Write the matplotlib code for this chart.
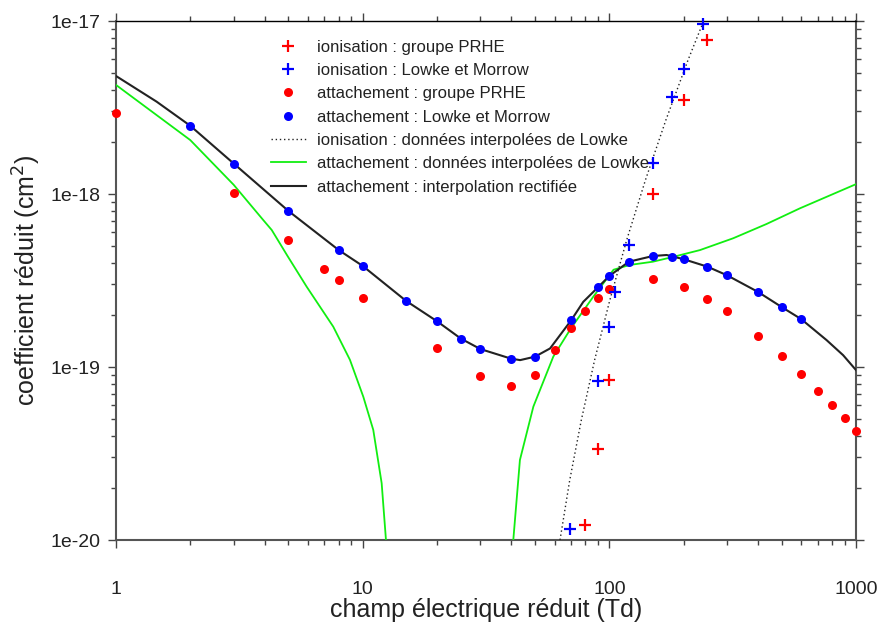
import numpy as np
import matplotlib
matplotlib.use("Agg")
import matplotlib.pyplot as plt
from matplotlib.ticker import LogLocator, NullFormatter, FixedLocator, FixedFormatter

plt.rcParams['font.family'] = ['Liberation Sans', 'DejaVu Sans']

# --- ionisation : groupe PRHE (red crosses)
ion_prhe_x = [80, 90, 100, 150, 200, 250]
ion_prhe_y = [1.22e-20, 3.36e-20, 8.45e-20, 9.96e-19, 3.51e-18, 7.73e-18]

# --- ionisation : Lowke et Morrow (blue crosses)
ion_lowke_x = [69, 90, 100, 105, 120, 150, 180, 200, 240]
ion_lowke_y = [1.15e-20, 8.34e-20, 1.71e-19, 2.72e-19, 5.04e-19, 1.52e-18, 3.64e-18, 5.30e-18, 9.57e-18]

# --- attachement : groupe PRHE (red dots)
att_prhe_x = [1, 3, 5, 7, 8, 10, 20, 30, 40, 50, 60, 70, 80, 90, 100,
              150, 200, 250, 300, 400, 500, 600, 700, 800, 900, 1000]
att_prhe_y = [2.92e-18, 1.02e-18, 5.42e-19, 3.68e-19, 3.17e-19, 2.51e-19, 1.28e-19,
              8.83e-20, 7.73e-20, 9.0e-20, 1.25e-19, 1.69e-19, 2.11e-19, 2.49e-19,
              2.82e-19, 3.24e-19, 2.90e-19, 2.48e-19, 2.10e-19, 1.52e-19, 1.16e-19,
              9.12e-20, 7.26e-20, 6.03e-20, 5.05e-20, 4.26e-20]

# --- attachement : Lowke et Morrow (blue dots)
att_lowke_x = [2, 3, 5, 8, 10, 15, 20, 25, 30, 40, 50, 70, 90, 100,
               120, 150, 180, 200, 250, 300, 400, 500, 600]
att_lowke_y = [2.48e-18, 1.50e-18, 7.98e-19, 4.74e-19, 3.84e-19, 2.41e-19, 1.84e-19,
               1.46e-19, 1.27e-19, 1.117e-19, 1.148e-19, 1.86e-19, 2.89e-19, 3.36e-19,
               4.06e-19, 4.38e-19, 4.32e-19, 4.20e-19, 3.80e-19, 3.39e-19, 2.72e-19,
               2.22e-19, 1.89e-19]

# --- ionisation : données interpolées de Lowke (dotted)
ion_interp_x = [63.1, 69.1, 77.0, 87.2, 100.5, 117.6, 140.1, 169.6, 208.6, 241.2]
ion_interp_y = [1.0e-20, 2.22e-20, 4.94e-20, 1.10e-19, 2.44e-19, 5.42e-19,
                1.205e-18, 2.68e-18, 5.96e-18, 1.0e-17]

# --- attachement : données interpolées de Lowke (green, two branches)
att_interp_low_x = [1, 2, 3, 3.95, 4.28, 4.95, 5.93, 7.6, 8.88, 10.06, 11.04, 11.94, 12.43]
att_interp_low_y = [4.27e-18, 2.05e-18, 1.13e-18, 7.08e-19, 6.19e-19, 4.4e-19, 2.91e-19,
                    1.71e-19, 1.10e-19, 6.73e-20, 4.33e-20, 2.13e-20, 1.0e-20]
att_interp_high_x = [40.8, 43.4, 49.2, 59.3, 70, 86.1, 104, 121, 150, 179, 233,
                     318, 434, 592, 808, 1000]
att_interp_high_y = [1.0e-20, 2.9e-20, 5.9e-20, 1.15e-19, 1.68e-19, 2.55e-19, 3.65e-19,
                     3.89e-19, 4.06e-19, 4.31e-19, 4.74e-19, 5.55e-19, 6.71e-19,
                     8.26e-19, 1.0e-18, 1.14e-18]

# --- attachement : interpolation rectifiée (black)
att_rect_x = [1, 1.46, 2, 3, 5, 8, 10, 15, 20, 25, 30, 40, 43.5, 50, 57.5, 70,
              78.4, 90, 100, 120, 150, 170.7, 200, 250, 300, 400, 500, 600, 760, 887, 1000]
att_rect_y = [4.81e-18, 3.42e-18, 2.48e-18, 1.50e-18, 7.98e-19, 4.74e-19,
              3.84e-19, 2.41e-19, 1.84e-19, 1.46e-19, 1.27e-19, 1.117e-19, 1.096e-19,
              1.148e-19, 1.28e-19, 1.86e-19, 2.38e-19, 2.89e-19, 3.36e-19, 4.06e-19,
              4.38e-19, 4.44e-19, 4.20e-19, 3.80e-19, 3.39e-19, 2.72e-19, 2.22e-19,
              1.89e-19, 1.43e-19, 1.17e-19, 9.6e-20]

x_ticks = [1, 10, 100, 1000]
x_tick_labels = ["1", "10", "100", "1000"]
y_ticks = [1e-20, 1e-19, 1e-18, 1e-17]
y_tick_labels = ["1e-20", "1e-19", "1e-18", "1e-17"]

RED = "#ff0000"
BLUE = "#0000ff"
GREEN = "#11ee11"
BLACK = "#222222"
TEXT = "#222222"

fig = plt.figure(figsize=(8.79, 6.25), dpi=100)
ax = fig.add_axes([116 / 879, 1 - 540 / 625, 740 / 879, 519 / 625])
ax.set_xscale("log")
ax.set_yscale("log")
ax.set_xlim(1, 1000)
ax.set_ylim(1e-20, 1e-17)

ax.plot(ion_prhe_x, ion_prhe_y, linestyle="none", marker="+", color=RED,
        markersize=8, markeredgewidth=1.6, label="ionisation : groupe PRHE",
        zorder=5, clip_on=False)
ax.plot(ion_lowke_x, ion_lowke_y, linestyle="none", marker="+", color=BLUE,
        markersize=8, markeredgewidth=1.6, label="ionisation : Lowke et Morrow",
        zorder=5, clip_on=False)
ax.plot(att_prhe_x, att_prhe_y, linestyle="none", marker="o", color=RED,
        markersize=6.5, markeredgewidth=0, label="attachement : groupe PRHE",
        zorder=4, clip_on=False)
ax.plot(att_lowke_x, att_lowke_y, linestyle="none", marker="o", color=BLUE,
        markersize=6.5, markeredgewidth=0, label="attachement : Lowke et Morrow",
        zorder=4, clip_on=False)
ax.plot(ion_interp_x, ion_interp_y, linestyle=(0, (1, 2)), color=BLACK, linewidth=1.0,
        label="ionisation : données interpolées de Lowke", zorder=3)
ax.plot(att_interp_low_x, att_interp_low_y, color=GREEN, linewidth=1.3,
        label="attachement : données interpolées de Lowke", zorder=3)
ax.plot(att_interp_high_x, att_interp_high_y, color=GREEN, linewidth=1.3, zorder=3)
ax.plot(att_rect_x, att_rect_y, color=BLACK, linewidth=1.5,
        label="attachement : interpolation rectifiée", zorder=3)

# Axes, ticks and labels
ax.xaxis.set_major_locator(FixedLocator(x_ticks))
ax.xaxis.set_major_formatter(FixedFormatter(x_tick_labels))
ax.xaxis.set_minor_locator(LogLocator(base=10, subs=np.arange(2, 10)))
ax.xaxis.set_minor_formatter(NullFormatter())
ax.yaxis.set_major_locator(FixedLocator(y_ticks))
ax.yaxis.set_major_formatter(FixedFormatter(y_tick_labels))
ax.yaxis.set_minor_locator(LogLocator(base=10, subs=np.arange(2, 10)))
ax.yaxis.set_minor_formatter(NullFormatter())

ax.tick_params(which="both", direction="out", top=True, right=True,
               color="#444444", width=1.0, labelcolor=TEXT, labelsize=14)
ax.tick_params(which="major", length=5.5)
ax.tick_params(which="minor", length=3.5)
ax.tick_params(axis="x", which="major", pad=24)
ax.tick_params(axis="y", which="major", pad=6)

for side in ["left", "bottom", "right"]:
    ax.spines[side].set_color("#555555")
    ax.spines[side].set_linewidth(1.5)
ax.spines["top"].set_color("black")
ax.spines["top"].set_linewidth(1.0)

ax.set_xlabel("champ électrique réduit (Td)", fontsize=18, color=TEXT, labelpad=0)
ax.set_ylabel("coefficient réduit (cm$^2$)", fontsize=18, color=TEXT, labelpad=5)

leg = ax.legend(loc="upper left", bbox_to_anchor=(0.2, 0.977), frameon=False,
                fontsize=12, handlelength=2.1, handletextpad=0.7, labelspacing=0.5,
                borderaxespad=0.0, labelcolor=TEXT)

fig.savefig("out.png", dpi=100)
